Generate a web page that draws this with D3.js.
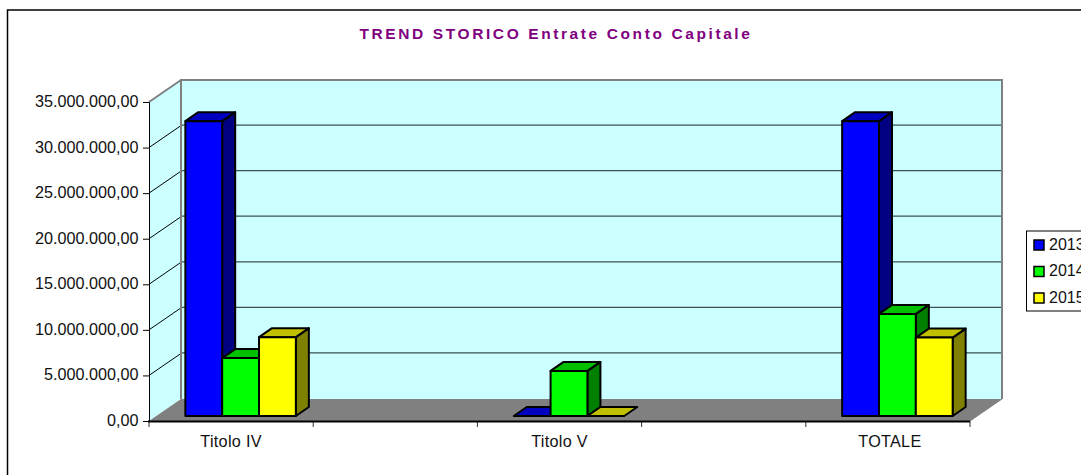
<!DOCTYPE html>
<html><head><meta charset="utf-8">
<style>html,body{margin:0;padding:0;background:#fff;overflow:hidden}svg{display:block}text{font-family:"Liberation Sans",Arial,sans-serif;fill:#111}</style>
<script src="https://cdn.jsdelivr.net/npm/d3@7"></script></head><body>
<script>
const categories = ["Titolo IV", "", "Titolo V", "", "TOTALE"];
const years = ["2013", "2014", "2015"];
const values2013 = [32350000, null, 0, null, 32350000];
const values2014 = [6350000, null, 4950000, null, 11200000];
const values2015 = [8650000, null, 0, null, 8600000];
const yTicks = [0, 5e6, 10e6, 15e6, 20e6, 25e6, 30e6, 35e6];
const frontColors = ["#0000ff", "#00ff00", "#ffff00"];
const topColors = ["#0000c0", "#00c000", "#c0c000"];
const sideColors = ["#000080", "#008000", "#808000"];
const title = "TREND STORICO Entrate Conto Capitale";

const W = 1081, H = 475;
const svg = d3.select("body").append("svg").attr("width", W).attr("height", H);
const fmt = v => d3.format(",.2f")(v).replace(/,/g, "#").replace(".", ",").replace(/#/g, ".");

const left = 149, right = 970, base = 421, top35 = 102;
const dx = 32, dy = -22;
const y = d3.scaleLinear().domain([0, 35e6]).range([base, top35]);
const x = d3.scaleBand().domain(d3.range(categories.length)).range([left, right]);
const series = [values2013, values2014, values2015];
const inner = d3.scaleBand().domain(d3.range(3)).range([0, 110.5]);

svg.append("rect").attr("x", 7.5).attr("y", 10).attr("width", 1200).attr("height", 600)
  .attr("fill", "#fff").attr("stroke", "#000").attr("stroke-width", 1.5);

const pts = a => a.map(p => p.join(",")).join(" ");
// walls and floor
svg.append("polygon").attr("points", pts([[left,base],[left+dx,base+dy],[left+dx,top35+dy],[left,top35]])).attr("fill", "#ccffff");
svg.append("rect").attr("x", left+dx).attr("y", top35+dy).attr("width", right-left).attr("height", base-top35).attr("fill", "#ccffff");
svg.append("polygon").attr("points", pts([[left,base],[left+dx,base+dy],[right+dx,base+dy],[right,base]])).attr("fill", "#808080");
// gridlines
yTicks.forEach(t => {
  if (t > 0 && t < 35e6) svg.append("line").attr("x1", left+dx).attr("x2", right+dx).attr("y1", y(t)+dy-.5).attr("y2", y(t)+dy-.5).attr("stroke", "#3c5050").attr("stroke-width", 1.2);
  if (t > 0) svg.append("line").attr("x1", left).attr("y1", y(t)).attr("x2", left+dx).attr("y2", y(t)+dy).attr("stroke", t === 35e6 ? "#808080" : "#000").attr("stroke-width", t === 35e6 ? 2 : 1);
});
svg.append("path").attr("d", `M${left+dx},${base+dy}V${top35+dy}H${right+dx}V${base+dy}`).attr("fill", "none").attr("stroke", "#808080").attr("stroke-width", 2);
svg.append("line").attr("x1", right).attr("y1", base).attr("x2", right+dx).attr("y2", base+dy).attr("stroke", "#808080").attr("stroke-width", 1);

// axes
const yAxis = d3.axisLeft(y).tickValues(yTicks).tickSize(6).tickFormat(fmt);
const gy = svg.append("g").attr("transform", `translate(${left},0)`).call(yAxis);
gy.select(".domain").attr("stroke", "#000").attr("stroke-width", 1);
gy.selectAll(".tick line").attr("stroke", "#000");
gy.selectAll("text").attr("font-size", 16.2).attr("font-family", '"Liberation Sans"').attr("fill", "#111").attr("dy", ".28em").attr("x", -10.5);
const xEdges = d3.range(categories.length + 1).map(i => i === categories.length ? right : x(i));
xEdges.forEach(e => svg.append("line").attr("x1", e).attr("x2", e).attr("y1", base).attr("y2", base+6).attr("stroke", "#333"));
svg.append("line").attr("x1", left-1).attr("x2", right).attr("y1", base+.5).attr("y2", base+.5).attr("stroke", "#000").attr("stroke-width", 2);
categories.forEach((c, i) => { if (c) svg.append("text").attr("x", x(i)+x.bandwidth()/2+(i===4?2:0)).attr("y", base+26).attr("text-anchor", "middle").attr("font-size", 16.2).attr("letter-spacing", .3).text(c); });

// bars
const bx = 9.5, by = -5, bdx = 13, bdy = -9;
const barW = inner.bandwidth();
categories.forEach((c, ci) => {
  if (!c) return;
  const x0 = x(ci) + (x.bandwidth() - 110.5) / 2 + bx;
  series.forEach((s, si) => {
    const v = s[ci], xl = x0 + inner(si), xr = xl + barW, yb = base + by, yt = y(v) + by;
    const g = svg.append("g").attr("stroke", "#000").attr("stroke-width", 2).attr("stroke-linejoin", "round");
    if (v > 0) g.append("polygon").attr("points", pts([[xr,yb],[xr+bdx,yb+bdy],[xr+bdx,yt+bdy],[xr,yt]])).attr("fill", sideColors[si]);
    g.append("polygon").attr("points", pts([[xl,yt],[xl+bdx,yt+bdy],[xr+bdx,yt+bdy],[xr,yt]])).attr("fill", topColors[si]);
    if (v > 0) g.append("rect").attr("x", xl).attr("y", yt).attr("width", barW).attr("height", yb-yt).attr("fill", frontColors[si]);
  });
});

// title
svg.append("text").attr("x", 556).attr("y", 39).attr("text-anchor", "middle").attr("font-size", 15.5).attr("font-weight", "bold").attr("letter-spacing", 2.6).style("fill", "#800080").text(title);

// legend
svg.append("rect").attr("x", 1026.5).attr("y", 231).attr("width", 80).attr("height", 80).attr("fill", "#fff").attr("stroke", "#000").attr("stroke-width", 1);
years.forEach((yr, i) => {
  const ly = 245 + i * 26.5;
  svg.append("rect").attr("x", 1034).attr("y", ly - 5).attr("width", 10).attr("height", 10).attr("fill", frontColors[i]).attr("stroke", "#000").attr("stroke-width", 1.5);
  svg.append("text").attr("x", 1049).attr("y", ly + 4.5).attr("font-size", 16).text(yr);
});
</script></body></html>
